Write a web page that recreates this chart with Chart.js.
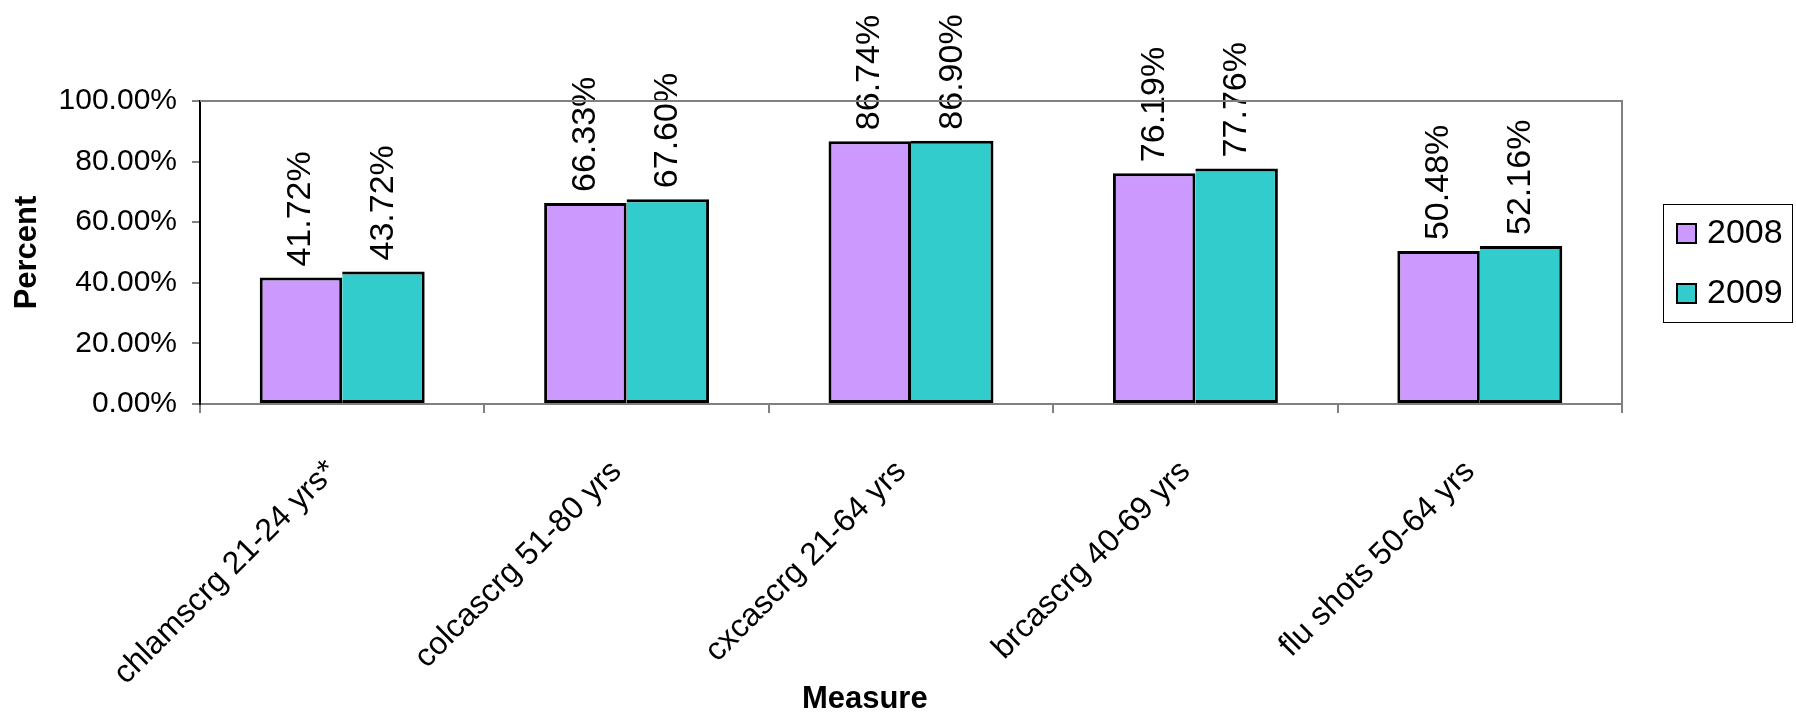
<!DOCTYPE html>
<html>
<head>
<meta charset="utf-8">
<script src="https://cdn.jsdelivr.net/npm/chart.js@4.4.0/dist/chart.umd.min.js"></script>
<style>
html, body { margin: 0; padding: 0; background: #fff; }
</style>
</head>
<body>
<canvas id="measureChart" width="1796" height="718"></canvas>
<script>
var categories = ['chlamscrg 21-24 yrs*', 'colcascrg 51-80 yrs', 'cxcascrg 21-64 yrs', 'brcascrg 40-69 yrs', 'flu shots 50-64 yrs'];
var seriesNames = ['2008', '2009'];
var values2008 = [41.72, 66.33, 86.74, 76.19, 50.48];
var values2009 = [43.72, 67.60, 86.90, 77.76, 52.16];
var seriesColors = ['#CC99FF', '#33CCCC'];

var fontFamily = "'Liberation Sans', Arial, sans-serif";
Chart.defaults.font.family = fontFamily;
Chart.defaults.color = '#000';

// value labels above bars, rotated
var barLabels = {
    id: 'barLabels',
    afterDatasetsDraw: function(chart) {
        var ctx = chart.ctx;
        ctx.save();
        ctx.font = '34px ' + fontFamily;
        ctx.fillStyle = '#000';
        ctx.textAlign = 'left';
        ctx.textBaseline = 'middle';
        chart.data.datasets.forEach(function(ds, i) {
            chart.getDatasetMeta(i).data.forEach(function(bar, j) {
                ctx.save();
                ctx.translate(bar.x, bar.y - 11);
                ctx.rotate(-Math.PI / 2);
                ctx.fillText(ds.data[j].toFixed(2) + '%', 0, 0);
                ctx.restore();
            });
        });
        ctx.restore();
    }
};

// gray frame on top/right, x title and boxed legend
var frameAndLegend = {
    id: 'frameAndLegend',
    afterDraw: function(chart) {
        var ctx = chart.ctx;
        var a = chart.chartArea;
        ctx.save();
        ctx.strokeStyle = '#808080';
        ctx.lineWidth = 2;
        ctx.beginPath();
        ctx.moveTo(a.left, a.top);
        ctx.lineTo(a.right, a.top);
        ctx.lineTo(a.right, a.bottom);
        ctx.stroke();

        ctx.font = 'bold 31px ' + fontFamily;
        ctx.fillStyle = '#000';
        ctx.textAlign = 'center';
        ctx.textBaseline = 'middle';
        ctx.fillText('Measure', a.left + (a.right - a.left) * 0.4675, 699);

        var lx = a.right + 41, ly = 204, lw = 129, lh = 118;
        ctx.strokeStyle = '#000';
        ctx.lineWidth = 1;
        ctx.strokeRect(lx + 0.5, ly + 0.5, lw, lh);
        ctx.font = '34px ' + fontFamily;
        ctx.textAlign = 'left';
        chart.data.datasets.forEach(function(ds, i) {
            var cy = ly + 29 + i * 60;
            ctx.fillStyle = ds.backgroundColor;
            ctx.fillRect(lx + 14, cy - 9, 19, 19);
            ctx.lineWidth = 2;
            ctx.strokeRect(lx + 14, cy - 9, 19, 19);
            ctx.fillStyle = '#000';
            ctx.fillText(ds.label, lx + 44, cy + 1);
        });
        ctx.restore();
    }
};

var ctx = document.getElementById('measureChart').getContext('2d');
var measureChart = new Chart(ctx, {
    type: 'bar',
    data: {
        labels: categories,
        datasets: [{
            label: seriesNames[0],
            data: values2008,
            backgroundColor: seriesColors[0],
            borderColor: '#000',
            borderWidth: 3,
            borderSkipped: false
        }, {
            label: seriesNames[1],
            data: values2009,
            backgroundColor: seriesColors[1],
            borderColor: '#000',
            borderWidth: { top: 3, right: 3, bottom: 3, left: 0 },
            borderSkipped: false
        }]
    },
    options: {
        responsive: false,
        animation: false,
        layout: { padding: { top: 101, right: 174, left: 0, bottom: 0 } },
        categoryPercentage: 0.58,
        barPercentage: 1.0,
        scales: {
            x: {
                offset: true,
                grid: { offset: true, drawOnChartArea: false, color: '#808080', lineWidth: 2, tickLength: 9 },
                border: { color: '#808080', width: 2 },
                ticks: {
                    minRotation: 45,
                    maxRotation: 45,
                    padding: 40,
                    labelOffset: -10,
                    font: { size: 32 },
                    color: '#000'
                },
                afterFit: function(scale) { scale.height = 314; }
            },
            y: {
                min: 0,
                max: 100,
                ticks: {
                    stepSize: 20,
                    padding: 15,
                    font: { size: 30 },
                    color: '#000',
                    callback: function(v) { return v.toFixed(2) + '%'; }
                },
                grid: { drawOnChartArea: false, color: '#808080', lineWidth: 2, tickLength: 8 },
                border: { color: '#000', width: 2 },
                title: {
                    display: true,
                    text: 'Percent',
                    font: { size: 31, weight: 'bold' },
                    color: '#000',
                    padding: { top: 9, bottom: 0 }
                },
                afterFit: function(scale) { scale.width = 200; }
            }
        },
        plugins: {
            legend: { display: false },
            tooltip: { enabled: false }
        }
    },
    plugins: [barLabels, frameAndLegend]
});
</script>
</body>
</html>
